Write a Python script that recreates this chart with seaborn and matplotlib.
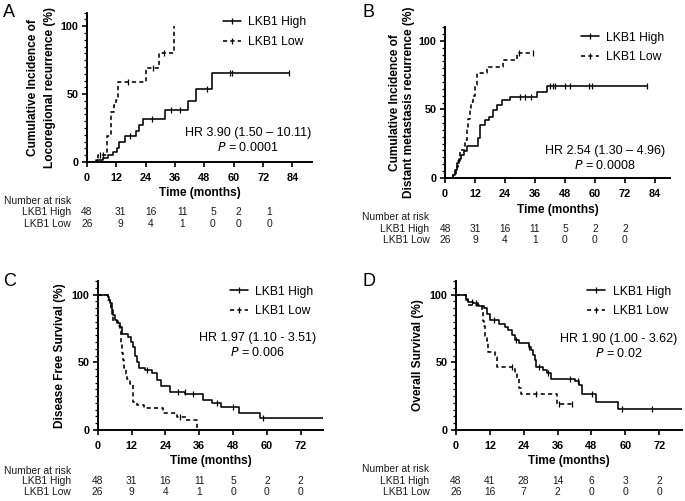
import numpy as np
import matplotlib
matplotlib.use("Agg")
import matplotlib.pyplot as plt
from matplotlib.lines import Line2D
from matplotlib.ticker import MultipleLocator
import matplotlib.transforms as mtransforms
import seaborn as sns

sns.set_theme(style="white")
plt.rcParams['font.family'] = ['Liberation Sans', 'DejaVu Sans']

# ---------------- data ----------------
# Panel A: cumulative incidence of locoregional recurrence (%)
a_high_t = [0, 4.0, 6.7, 8.4, 10.7, 12.1, 13.2, 15.5, 20.2, 21.3, 22.9, 32.0, 41.3, 44.7, 51.1, 82.4]
a_high_v = [0, 1.5, 3, 5, 7.6, 10.5, 15, 19, 22.5, 27, 31.6, 38, 44.7, 53.8, 65.7, 65.7]
a_high_cens = [17.5, 26.4, 34.5, 38.0, 49.0, 58.5, 59.3, 82.4]
a_low_t = [0, 3.5, 4.5, 8.0, 10.0, 11.0, 11.8, 12.8, 24.0, 29.4, 35.6]
a_low_v = [0, 2, 5, 19, 37, 42, 46, 59, 69, 80.5, 100]
a_low_cens = [5.5, 6.5, 16.8, 27.0, 31.5]

# Panel B: cumulative incidence of distant metastasis recurrence (%)
b_high_t = [0, 3.3, 4.0, 4.7, 5.4, 6.3, 7.6, 8.7, 13.3, 14.0, 16.0, 17.7, 19.3, 20.9, 22.7, 26.0, 36.7, 40.7, 80.7]
b_high_v = [0, 2, 5.7, 10.6, 14, 16.7, 19.5, 23.3, 29, 38.7, 42.4, 44.6, 49.3, 53.4, 57, 59, 63, 67, 67]
b_high_cens = [30.0, 32.0, 34.5, 42.0, 43.1, 44.0, 48.0, 50.0, 57.7, 58.7, 80.7]
b_low_t = [0, 3.3, 4.3, 5.0, 6.0, 8.0, 8.7, 9.3, 9.8, 10.5, 11.3, 12.0, 12.7, 16.7, 23.3, 28.7, 35.0]
b_low_v = [0, 2, 8, 12, 20, 27.7, 35, 43, 51, 55.5, 60, 68, 76.8, 80.9, 86, 91.5, 91.5]
b_low_cens = [29.5, 35.0]

# Panel C: disease free survival (%)
c_high_t = [0, 3.5, 3.9, 4.4, 5.0, 5.6, 6.2, 6.8, 8.0, 8.7, 10.8, 11.8, 12.6, 13.2, 13.8, 14.7, 16.7,
            19.1, 20.9, 22.4, 25.6, 31.0, 37.4, 40.4, 43.9, 50.1, 57.7, 80.0]
c_high_v = [100, 97.9, 95.8, 93.4, 88.4, 84.7, 81, 79, 76, 71, 68.8, 65, 61.4, 55, 50, 46, 44,
            41.8, 36.8, 32.4, 28.2, 26.4, 22.1, 20.1, 17.2, 12.3, 8.6, 8.6]
c_high_cens = [17.5, 28.5, 30.8, 33.7, 42.4, 48.0, 58.6]
c_low_t = [0, 3.5, 4.2, 4.8, 5.2, 5.5, 7.3, 7.9, 8.3, 8.6, 9.0, 9.5, 10.0, 10.5, 11.5, 12.6, 14.1,
           16.5, 23.2, 28.0, 31.3, 35.3]
c_low_v = [100, 96.2, 92.3, 88.5, 84.6, 80.8, 76.9, 73.1, 64, 57, 51.6, 46, 41, 38, 34, 21, 18.4,
           16, 12.3, 9.8, 7.4, 0]
c_low_cens = [29.1]

# Panel D: overall survival (%)
d_high_t = [0, 3.4, 4.4, 6.2, 7.9, 10.1, 10.9, 12.1, 15.1, 17.4, 18.6, 19.8, 20.8, 22.2, 25.7, 26.7,
            27.2, 27.9, 28.4, 30.7, 32.2, 33.8, 42.3, 43.5, 44.6, 49.5, 57.5, 80.0]
d_high_v = [100, 97, 94.6, 93.4, 91.4, 89.7, 86, 81, 78.6, 76, 73.7, 70, 66.3, 63.9, 61.4, 59,
            55.3, 51.6, 46.2, 44.2, 41.8, 38, 36.3, 33.2, 26.5, 20.9, 15.2, 15.2]
d_high_cens = [5.5, 7.0, 13.5, 21.3, 26.0, 29.5, 32.5, 40.3, 43.2, 48.3, 59.0, 69.6]
d_low_t = [0, 3.4, 4.4, 9.1, 9.5, 10.0, 10.3, 10.9, 11.5, 13.9, 14.5, 20.8, 21.6, 22.4, 23.0, 35.8, 41.2]
d_low_v = [100, 96.2, 92.3, 88.5, 80.8, 76.9, 69.2, 65.4, 57.7, 53.8, 46.2, 42.3, 38.5, 30.8, 26.9, 19.2, 19.2]
d_low_cens = [19.8, 28.5, 36.5, 41.2]

# Number at risk tables
risk_times = [0, 12, 24, 36, 48, 60, 72]
risk_times_a = [0, 13.5, 26, 39, 51.5, 62, 74.5]
a_risk_high = [48, 31, 16, 11, 5, 2, 1]
a_risk_low = [26, 9, 4, 1, 0, 0, 0]
b_risk_high = [48, 31, 16, 11, 5, 2, 2]
b_risk_low = [26, 9, 4, 1, 0, 0, 0]
c_risk_high = [48, 31, 16, 11, 5, 2, 2]
c_risk_low = [26, 9, 4, 1, 0, 0, 0]
d_risk_high = [48, 41, 28, 14, 6, 3, 2]
d_risk_low = [26, 16, 7, 2, 0, 0, 0]

group_labels = ["LKB1 High", "LKB1 Low"]
panel_letters = ["A", "B", "C", "D"]
ylabels = ["Cumulative Incidence of\nLocoregional recurrence (%)",
           "Cumulative Incidence of\nDistant metastasis recurrence (%)",
           "Disease Free Survival (%)",
           "Overall Survival (%)"]
hr_texts = ["HR 3.90 (1.50 \u2013 10.11)", "HR 2.54 (1.30 \u2013 4.96)",
            "HR 1.97 (1.10 - 3.51)", "HR 1.90 (1.00 - 3.62)"]
p_texts = ["0.0001", "0.0008", "0.006", "0.02"]

# ---------------- figure ----------------
W, H = 685, 501
fig = plt.figure(figsize=(W / 100, H / 100), dpi=100)


def fx(px):
    return px / W


def fy(py):
    return 1 - py / H


# axes boxes in pixel coordinates: left, right, top, bottom
boxes = [(87, 312, 12.7, 162), (445, 670, 27.3, 177.7),
         (97.7, 323.3, 281, 430), (456, 681.7, 281, 430)]
xlims = [(0, 92), (0, 90), (0, 80), (0, 80)]
xticks = [np.arange(0, 85, 12), np.arange(0, 85, 12), np.arange(0, 73, 12), np.arange(0, 73, 12)]

curves = [
    (a_high_t, a_high_v, a_high_cens, a_low_t, a_low_v, a_low_cens),
    (b_high_t, b_high_v, b_high_cens, b_low_t, b_low_v, b_low_cens),
    (c_high_t, c_high_v, c_high_cens, c_low_t, c_low_v, c_low_cens),
    (d_high_t, d_high_v, d_high_cens, d_low_t, d_low_v, d_low_cens),
]
risks = [(a_risk_high, a_risk_low), (b_risk_high, b_risk_low),
         (c_risk_high, c_risk_low), (d_risk_high, d_risk_low)]
rtimes = [risk_times_a, risk_times, risk_times, risk_times]

# layout helpers (pixels)
letter_pos = [(3, 4), (362, 4), (3, 273), (362, 273)]
ylabel_x = [41.5, 402, 60, 418]
ylabel_ls = [1.55, 1.2, 1.2, 1.2]
xlabel_y = [193.3, 210, 461, 461]
legend_pos = [(222.7, 16.5), (580.7, 31.5), (230, 285.5), (587.3, 285.5)]
hr_pos = [(248, 133.3), (605, 150.7), (257.7, 337.7), (618.3, 339.3)]
table_y = [(201, 212.3, 224), (217.3, 229, 240), (470.7, 480.7, 492.3), (469.3, 481, 492.3)]
table_label_x = [(4, 71), (361.7, 429.3), (4, 71), (361.7, 429.3)]

dash = (0, (2.6, 2.0))
lw = 1.15
tc = "#1a1a1a"
fs_tick = 7.8
fs_lab = 8.6
fs_leg = 8.7
fs_hr = 9.0
fs_tab = 7.4


def step_value(t, times, vals):
    idx = np.searchsorted(np.asarray(times), t, side="right") - 1
    return np.asarray(vals)[max(idx, 0)]


for i in range(4):
    l, r, t, b = boxes[i]
    ax = fig.add_axes([fx(l), fy(b), fx(r) - fx(l), fy(t) - fy(b)])
    ht, hv, hc, lt, lv, lc = curves[i]

    sns.lineplot(x=ht, y=hv, ax=ax, color="black", linewidth=lw, drawstyle="steps-post",
                 estimator=None, sort=False, legend=False)
    sns.lineplot(x=lt, y=lv, ax=ax, color="black", linewidth=lw, drawstyle="steps-post",
                 linestyle=dash, estimator=None, sort=False, legend=False)
    ax.plot(hc, [step_value(c, ht, hv) for c in hc], linestyle="none", marker="|",
            markersize=4, markeredgewidth=0.9, color="black", clip_on=False)
    ax.plot(lc, [step_value(c, lt, lv) for c in lc], linestyle="none", marker="|",
            markersize=4, markeredgewidth=0.9, color="black", clip_on=False)

    ax.set_xlim(*xlims[i])
    ax.set_ylim(0, 110)
    ax.set_xticks(xticks[i])
    ax.set_yticks([0, 50, 100])
    ax.yaxis.set_minor_locator(MultipleLocator(5))
    for s in ["top", "right"]:
        ax.spines[s].set_visible(False)
    for s in ["left", "bottom"]:
        ax.spines[s].set_linewidth(1.4)
        ax.spines[s].set_color("black")
    ax.tick_params(axis="x", which="major", direction="out", length=3.5, width=1.2,
                   colors="black", labelsize=fs_tick, pad=4.5, bottom=True)
    ax.tick_params(axis="y", which="major", direction="out", length=3.5, width=1.2,
                   colors="black", labelsize=fs_tick, pad=2.5, left=True)
    ax.tick_params(axis="y", which="minor", direction="out", length=2.2, width=0.9,
                   colors="black", left=True)
    for lab in ax.get_xticklabels() + ax.get_yticklabels():
        lab.set_fontweight("bold")
    ax.set_facecolor("none")

    ax.set_xlabel("Time (months)", fontsize=fs_lab, fontweight="bold", color="black")
    ax.xaxis.label.set_verticalalignment("center")
    ax.xaxis.set_label_coords((l + r) / 2, H - xlabel_y[i],
                              transform=mtransforms.IdentityTransform())
    ax.set_ylabel(ylabels[i], fontsize=fs_lab, fontweight="bold", color="black",
                  linespacing=ylabel_ls[i])
    ax.yaxis.label.set_verticalalignment("center")
    ax.yaxis.set_label_coords(ylabel_x[i], H - (t + b) / 2,
                              transform=mtransforms.IdentityTransform())

    # legend
    handles = [Line2D([], [], color="black", lw=lw, marker="|", markersize=4, markevery=[1],
                      markeredgewidth=0.9),
               Line2D([], [], color="black", lw=lw, linestyle=dash, marker="|", markersize=4,
                      markevery=[1], markeredgewidth=0.9)]
    lx, ly = legend_pos[i]
    leg = ax.legend(handles, group_labels, loc="upper left",
                    bbox_to_anchor=(fx(lx), fy(ly)), bbox_transform=fig.transFigure,
                    frameon=False, fontsize=fs_leg, handlelength=1.5, handletextpad=0.6,
                    labelspacing=0.6, borderpad=0, borderaxespad=0)
    for txt in leg.get_texts():
        txt.set_color("black")

    # HR text
    hx, hy = hr_pos[i]
    fig.text(fx(hx), fy(hy), hr_texts[i], ha="center", va="center", fontsize=fs_hr, color="black")
    fig.text(fx(hx), fy(hy + 14.5), r"$\it{P}$ = " + p_texts[i], ha="center", va="center",
             fontsize=fs_hr, color="black")

    # panel letter
    px_, py_ = letter_pos[i]
    fig.text(fx(px_), fy(py_), panel_letters[i], ha="left", va="top", fontsize=13,
             color="black")

    # number at risk table
    ty0, ty1, ty2 = table_y[i]
    nx, rx = table_label_x[i]
    fig.text(fx(nx), fy(ty0), "Number at risk", ha="left", va="center", fontsize=fs_tab, color=tc)
    fig.text(fx(rx), fy(ty1), group_labels[0], ha="right", va="center", fontsize=fs_tab, color=tc)
    fig.text(fx(rx), fy(ty2), group_labels[1], ha="right", va="center", fontsize=fs_tab, color=tc)
    trans = mtransforms.blended_transform_factory(ax.transData, fig.transFigure)
    rh, rl = risks[i]
    for tt, n1, n2 in zip(rtimes[i], rh, rl):
        ax.text(tt, fy(ty1), str(n1), transform=trans, ha="center", va="center",
                fontsize=fs_tab, color=tc, clip_on=False)
        ax.text(tt, fy(ty2), str(n2), transform=trans, ha="center", va="center",
                fontsize=fs_tab, color=tc, clip_on=False)

fig.savefig("out.png", dpi=100, facecolor="white")
